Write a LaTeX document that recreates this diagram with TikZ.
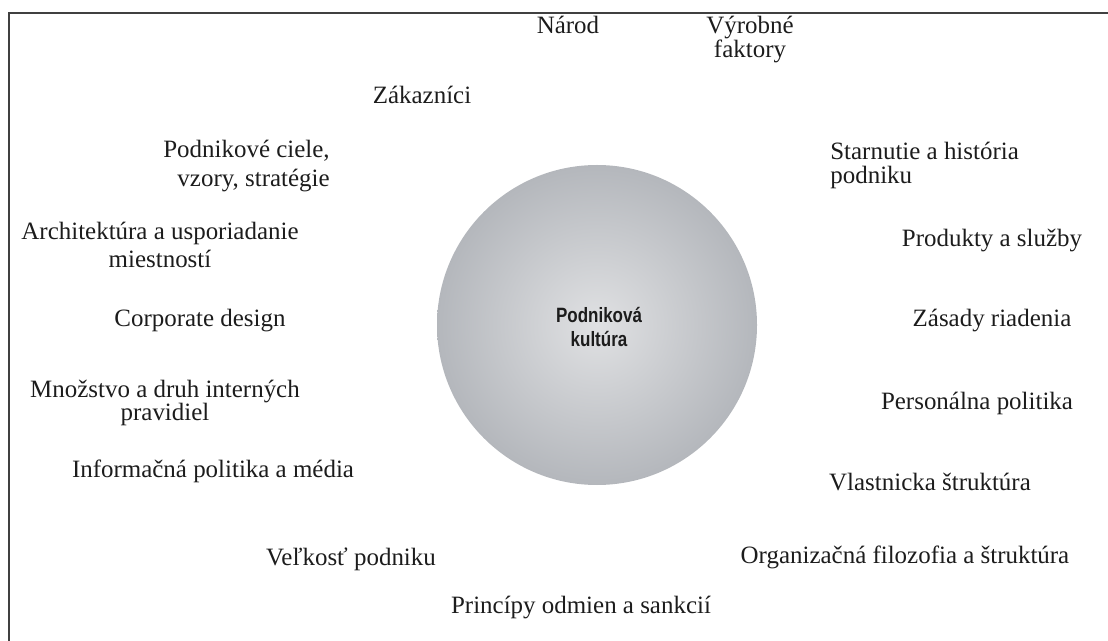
\documentclass[tikz,border=0pt]{standalone}
\usepackage{fontspec}
\setmainfont{Liberation Serif}
\newfontfamily\corefont[FakeStretch=0.82]{Liberation Sans}
\usepackage{tikz}
\definecolor{ballin}{HTML}{E0E1E3}
\definecolor{ballout}{HTML}{B4B7BC}
\definecolor{ink}{HTML}{1C1C1C}

\begin{document}
\begin{tikzpicture}[x=0.02cm,y=-0.02cm,
		lbl/.style={inner sep=0pt,anchor=base,align=center,text=ink,
			font=\fontsize{14.2}{13}\selectfont},
		core/.style={inner sep=0pt,anchor=base,align=center,text=ink,
			font=\corefont\bfseries\fontsize{11.8}{14}\selectfont}]
		\useasboundingbox (0,0) rectangle (1108,641);
		% frame
		\draw[line width=1.1pt,color=black!75] (9,641) -- (9,13) -- (1108,13);
		% the ball in the middle
		\shade[inner color=ballin,outer color=ballout] (597,325) circle (160);
		% multi-line nodes sit on the baseline of their last line
		\node[core] (kultura) at (599,347) {Podniková\\kultúra};
		% factors round the ball
		\node[lbl] (narod) at (568,34) {Národ};
		\node[lbl] (vyrobne) at (750,58) {Výrobné\\faktory};
		\node[lbl] (zakaznici) at (422,104) {Zákazníci};
		\node[lbl,anchor=base west,align=left] (starnutie) at (830,184) {Starnutie a história\\[1pt]podniku};
		\node[lbl,anchor=base east,align=right] (ciele) at (330,187) {Podnikové ciele,\\[4pt]vzory, stratégie};
		\node[lbl] (arch) at (160,268) {Architektúra a usporiadanie\\[3pt]miestností};
		\node[lbl] (produkty) at (992,247) {Produkty a služby};
		\node[lbl] (corporate) at (200,327) {Corporate design};
		\node[lbl] (zasady) at (992,327) {Zásady riadenia};
		\node[lbl] (mnozstvo) at (165,420) {Množstvo a druh interných\\pravidiel};
		\node[lbl] (personalna) at (977,410) {Personálna politika};
		\node[lbl] (informacna) at (213,477) {Informačná politika a média};
		\node[lbl] (vlastnicka) at (930,490) {Vlastnicka štruktúra};
		\node[lbl] (velkost) at (351,565) {Veľkosť podniku};
		\node[lbl] (organizacna) at (905,563) {Organizačná filozofia a štruktúra};
		\node[lbl] (principy) at (581,613) {Princípy odmien a sankcií};
	\end{tikzpicture}
\end{document}
